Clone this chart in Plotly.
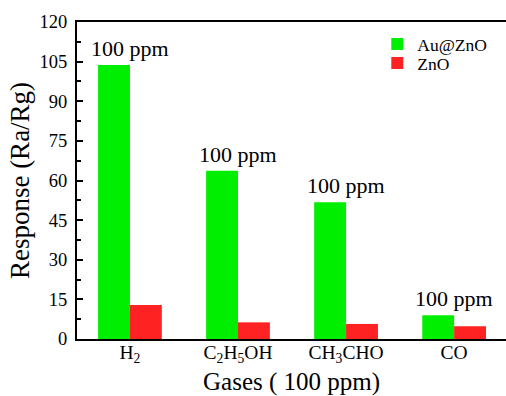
import plotly.graph_objects as go

gases = ["H<sub>2</sub>", "C<sub>2</sub>H<sub>5</sub>OH", "CH<sub>3</sub>CHO", "CO"]
au_zno = [103.7, 63.7, 51.8, 9.0]
zno = [12.9, 6.3, 5.7, 4.8]
conc_labels = ["100 ppm", "100 ppm", "100 ppm", "100 ppm"]
x_title = "Gases ( 100 ppm)"
y_title = "Response (Ra/Rg)"

FONT = "Liberation Serif, Times New Roman, serif"
GREEN = "#00EE00"
RED = "#FF2222"

fig = go.Figure()
fig.add_trace(go.Bar(x=gases, y=au_zno, name="Au@ZnO", legend="legend",
                     marker=dict(color=GREEN, line=dict(width=0))))
fig.add_trace(go.Bar(x=gases, y=zno, name="ZnO", legend="legend2",
                     marker=dict(color=RED, line=dict(width=0))))

for g, v, t in zip(gases, au_zno, conc_labels):
    fig.add_annotation(x=g, y=v, text=t, showarrow=False, yanchor="bottom",
                       yshift=2, font=dict(family=FONT, size=22, color="black"))

# x-axis title placed below tick labels
fig.add_annotation(x=0.5, y=-(382 - 339) / 317, xref="paper", yref="paper",
                   text=x_title, showarrow=False, xanchor="center", yanchor="middle",
                   font=dict(family=FONT, size=25, color="black"))

leg = dict(xanchor="left", yanchor="middle", font=dict(family=FONT, size=17.5),
           bgcolor="rgba(0,0,0,0)")
fig.update_layout(
    width=506, height=396,
    margin=dict(l=77, r=0, t=22, b=57, autoexpand=False),
    paper_bgcolor="white", plot_bgcolor="white",
    barmode="group", bargap=0.41, bargroupgap=0,
    font=dict(family=FONT, color="black"),
    legend=dict(leg, x=0.70, y=(339 - 44) / 317),
    legend2=dict(leg, x=0.70, y=(339 - 63) / 317),
    showlegend=True,
)
fig.update_xaxes(
    range=[-0.49, 3.48], showline=True, linecolor="black", linewidth=2,
    mirror=True, ticks="", showgrid=False, automargin=False,
    tickfont=dict(family=FONT, size=19.5), ticklabelstandoff=-5,
)
fig.update_yaxes(
    range=[0, 120], dtick=15, showline=True, linecolor="black", linewidth=2,
    ticks="inside", ticklen=6, tickwidth=1.5, tickcolor="black", showgrid=False,
    automargin=False,
    minor=dict(ticks="inside", ticklen=3.5, dtick=7.5, tickcolor="black", tickwidth=1.5),
    tickfont=dict(family=FONT, size=18.5), ticklabelstandoff=4,
    title=dict(text=y_title, font=dict(family=FONT, size=27), standoff=2),
    zeroline=False,
)

fig.write_html("out.html")
